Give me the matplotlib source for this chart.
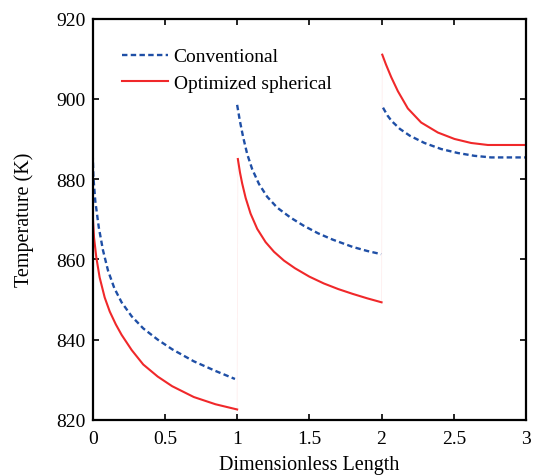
import matplotlib
matplotlib.use("Agg")
import matplotlib.pyplot as plt

plt.rcParams['font.family'] = ['Liberation Serif', 'DejaVu Serif']

# Conventional reactor (blue dashed), three beds
conv_x1 = [0.0, 0.005, 0.018, 0.042, 0.071, 0.106, 0.15, 0.2, 0.27, 0.35, 0.45, 0.55, 0.7, 0.85, 0.985]
conv_y1 = [886.3, 880.4, 874.5, 868.0, 862.3, 857.2, 852.8, 849.3, 845.8, 842.8, 840.0, 837.6, 834.6, 832.2, 830.2]
conv_x2 = [1.0, 1.019, 1.042, 1.070, 1.104, 1.151, 1.208, 1.277, 1.37, 1.46, 1.56, 1.663, 1.8, 1.9, 1.997]
conv_y2 = [898.5, 894.5, 890.4, 886.2, 882.5, 878.8, 875.6, 872.9, 870.4, 868.4, 866.5, 864.9, 863.1, 862.1, 861.3]
conv_x3 = [2.01, 2.04, 2.069, 2.127, 2.196, 2.297, 2.412, 2.528, 2.643, 2.758, 3.0]
conv_y3 = [897.8, 895.9, 894.5, 892.5, 890.8, 889.0, 887.5, 886.5, 885.8, 885.4, 885.4]

# Optimized spherical reactor (red solid), three beds
opt_x1 = [0.0, 0.009, 0.025, 0.048, 0.083, 0.118, 0.16, 0.2, 0.27, 0.35, 0.45, 0.55, 0.7, 0.85, 1.0]
opt_y1 = [871.0, 865.5, 860.5, 855.5, 850.5, 847.0, 843.8, 841.2, 837.4, 833.8, 830.8, 828.4, 825.7, 823.9, 822.6]
opt_x2 = [1.005, 1.02, 1.035, 1.059, 1.093, 1.139, 1.197, 1.255, 1.324, 1.4, 1.5, 1.6, 1.7, 1.8, 1.9, 2.0]
opt_y2 = [885.0, 881.6, 878.9, 875.3, 871.4, 867.6, 864.3, 861.9, 859.7, 857.8, 855.7, 854.0, 852.6, 851.4, 850.3, 849.3]
opt_x3 = [2.005, 2.03, 2.067, 2.113, 2.182, 2.274, 2.39, 2.505, 2.62, 2.736, 3.0]
opt_y3 = [911.0, 908.6, 905.4, 901.9, 897.6, 894.1, 891.6, 890.0, 889.0, 888.5, 888.5]

xticks = [0, 0.5, 1, 1.5, 2, 2.5, 3]
xticklabels = ['0', '0.5', '1', '1.5', '2', '2.5', '3']
yticks = [820, 840, 860, 880, 900, 920]

blue = '#1f4fa6'
red = '#f0282a'

fig = plt.figure(figsize=(5.34, 4.77), dpi=100)
ax = fig.add_axes([0.1736, 0.1176, 0.985 - 0.1736, 0.959 - 0.1176])

dash = (0, (2.3, 1.4))
ax.plot(conv_x1, conv_y1, color=blue, lw=1.7, ls=dash, label='Conventional')
ax.plot(conv_x2, conv_y2, color=blue, lw=1.7, ls=dash)
ax.plot(conv_x3, conv_y3, color=blue, lw=1.7, ls=dash)
ax.plot(opt_x1, opt_y1, color=red, lw=1.5, label='Optimized spherical')
ax.plot(opt_x2, opt_y2, color=red, lw=1.5)
ax.plot(opt_x3, opt_y3, color=red, lw=1.5)

# faint jump connectors between beds
ax.plot([opt_x1[-1], opt_x2[0]], [opt_y1[-1], opt_y2[0]], color=red, lw=0.6, alpha=0.08)
ax.plot([opt_x2[-1], opt_x3[0]], [opt_y2[-1], opt_y3[0]], color=red, lw=0.6, alpha=0.08)

ax.set_xlim(0, 3)
ax.set_ylim(820, 920)
ax.set_xticks(xticks)
ax.set_xticklabels(xticklabels)
ax.set_yticks(yticks)

ax.tick_params(direction='in', length=4, width=1.2, labelsize=14,
               top=True, right=True, pad=5)
ax.tick_params(axis='x', pad=7)
for s in ax.spines.values():
    s.set_linewidth(1.6)

ax.set_xlabel('Dimensionless Length', fontsize=14.5, labelpad=6)
ax.set_ylabel('Temperature (K)', fontsize=14.5, labelpad=16)

leg = ax.legend(loc='upper left', bbox_to_anchor=(0.068, 0.927), frameon=False,
                fontsize=14, handlelength=2.35, handletextpad=0.3,
                labelspacing=0.45, borderpad=0, borderaxespad=0)

fig.savefig('out.png', dpi=100)
